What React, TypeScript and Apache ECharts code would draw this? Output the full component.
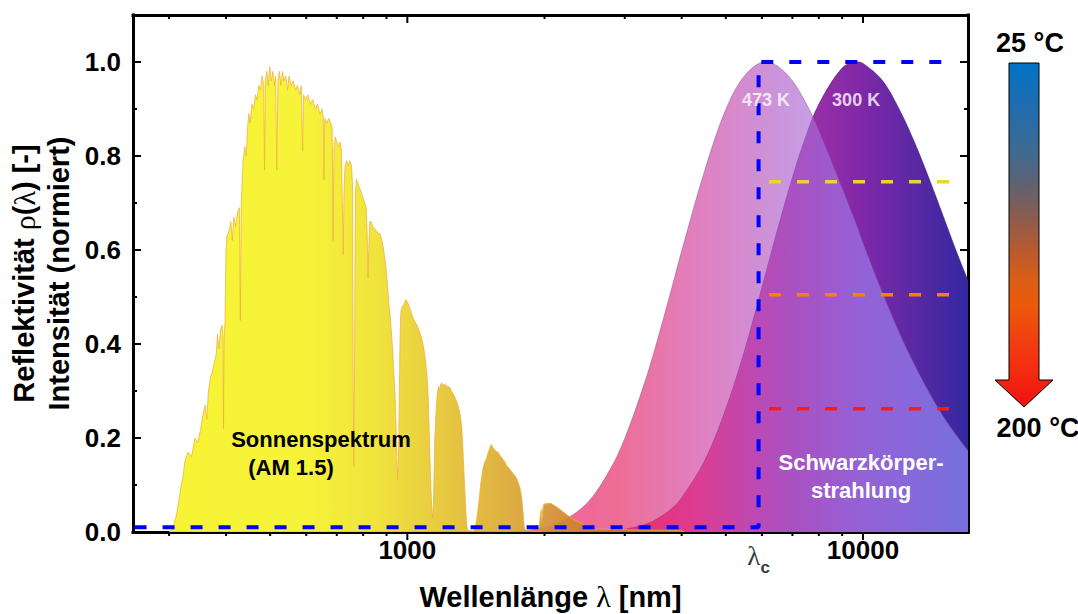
import React, { useEffect, useRef } from 'react';
import * as echarts from 'echarts';

const FONT = "'Liberation Sans', Arial, Helvetica, sans-serif";
const SERIF = "'Liberation Serif', 'Times New Roman', serif";

// ---------- data ----------
// AM 1.5 solar spectrum (normalised)
const solarWavelengthNm = [
  300, 306, 312, 318, 322, 325, 330, 336, 342, 347, 352, 356, 360, 363, 366, 370, 373, 377, 381, 383,
  386, 389, 392, 394, 395, 396, 398, 400, 402, 406, 410, 413, 416, 420, 424, 428, 430, 432, 436, 440,
  443, 446, 449, 452, 456, 460, 464, 468, 472, 476, 480, 484, 486, 488, 492, 495, 499, 503, 507, 511,
  514, 517, 520, 524, 528, 532, 536, 541, 546, 550, 556, 562, 568, 574, 580, 585, 589, 592, 598, 605,
  612, 620, 628, 635, 643, 650, 654, 656, 659, 665, 672, 679, 684, 687, 690, 695, 700, 706, 712, 717,
  720, 723, 726, 730, 736, 742, 748, 754, 758, 761, 763, 766, 769, 773, 780, 787, 794, 800, 806, 812,
  816, 820, 823, 827, 833, 840, 848, 856, 863, 870, 877, 884, 890, 896, 902, 907, 912, 917, 922, 928,
  934, 940, 946, 952, 956, 960, 964, 968, 975, 984, 992, 1000, 1010, 1020, 1030, 1040, 1050, 1062, 1073, 1082,
  1091, 1100, 1107, 1112, 1118, 1124, 1130, 1136, 1141, 1145, 1149, 1154, 1160, 1166, 1172, 1178, 1184, 1190, 1198, 1206,
  1215, 1225, 1238, 1250, 1262, 1274, 1286, 1298, 1308, 1316, 1324, 1331, 1337, 1343, 1350, 1357, 1400, 1410, 1418, 1428,
  1438, 1446, 1455, 1465, 1478, 1490, 1500, 1512, 1522, 1530, 1540, 1552, 1565, 1580, 1598, 1615, 1635, 1655, 1675, 1695,
  1715, 1735, 1752, 1765, 1778, 1788, 1797, 1805, 1815, 1940, 1950, 1958, 1964, 1970, 1976, 1982, 1988, 1998, 2010, 2025,
  2045, 2069, 2095, 2120, 2150, 2175, 2205, 2230, 2260, 2288, 2320, 2350, 2380, 2407, 2440, 2470, 2500, 2600, 2800, 3000,
  3300, 3600, 4000, 4050,
];
const solarIntensity = [
  0, 0.008, 0.04, 0.09, 0.12, 0.15, 0.17, 0.16, 0.2, 0.19, 0.22, 0.25, 0.27, 0.24, 0.3, 0.33, 0.34, 0.36, 0.38, 0.42,
  0.39, 0.43, 0.44, 0.42, 0.22, 0.4, 0.45, 0.6, 0.63, 0.64, 0.66, 0.62, 0.67, 0.65, 0.68, 0.69, 0.45, 0.7, 0.79, 0.82,
  0.8, 0.86, 0.89, 0.87, 0.91, 0.9, 0.93, 0.92, 0.95, 0.94, 0.97, 0.95, 0.77, 0.96, 0.98, 0.95, 0.99, 0.96, 0.98, 0.95,
  0.97, 0.77, 0.96, 0.98, 0.95, 0.98, 0.96, 0.97, 0.94, 0.97, 0.95, 0.96, 0.94, 0.95, 0.93, 0.95, 0.81, 0.93, 0.92, 0.93,
  0.91, 0.92, 0.9, 0.91, 0.89, 0.9, 0.88, 0.75, 0.88, 0.87, 0.88, 0.87, 0.86, 0.62, 0.82, 0.84, 0.83, 0.82, 0.83, 0.81,
  0.7, 0.59, 0.72, 0.78, 0.79, 0.78, 0.79, 0.78, 0.74, 0.3, 0.14, 0.35, 0.72, 0.75, 0.74, 0.73, 0.72, 0.71, 0.7, 0.69,
  0.64, 0.54, 0.6, 0.66, 0.66, 0.65, 0.645, 0.64, 0.635, 0.635, 0.625, 0.61, 0.59, 0.57, 0.54, 0.51, 0.48, 0.46, 0.43, 0.39,
  0.34, 0.29, 0.2, 0.11, 0.15, 0.28, 0.42, 0.47, 0.48, 0.485, 0.494, 0.49, 0.48, 0.466, 0.455, 0.447, 0.44, 0.428, 0.415, 0.4,
  0.38, 0.35, 0.32, 0.28, 0.2, 0.12, 0.06, 0.03, 0.06, 0.13, 0.2, 0.24, 0.28, 0.3, 0.31, 0.3, 0.315, 0.317, 0.31, 0.315,
  0.312, 0.31, 0.308, 0.3, 0.293, 0.285, 0.275, 0.262, 0.245, 0.225, 0.18, 0.13, 0.09, 0.05, 0.015, 0.003, 0.002, 0.01, 0.025, 0.045,
  0.07, 0.095, 0.115, 0.135, 0.148, 0.155, 0.165, 0.175, 0.183, 0.186, 0.18, 0.176, 0.172, 0.17, 0.163, 0.157, 0.15, 0.14, 0.135, 0.128,
  0.122, 0.115, 0.105, 0.095, 0.08, 0.06, 0.035, 0.012, 0.003, 0.002, 0.015, 0.035, 0.045, 0.02, 0.05, 0.03, 0.056, 0.061, 0.058, 0.062,
  0.06, 0.061, 0.057, 0.054, 0.05, 0.046, 0.042, 0.038, 0.034, 0.031, 0.027, 0.024, 0.021, 0.018, 0.014, 0.011, 0.008, 0.006, 0.006, 0.005,
  0.004, 0.004, 0.003, 0,
];

// black-body curves (normalised)
const bbWavelengthNm = [
  1500, 1800, 2000, 2200, 2500, 2800, 3000, 3300, 3500, 3800, 4000, 4500, 5000, 5500, 6100,
  6500, 7000, 7500, 8000, 9000, 9700, 10000, 11000, 12000, 13000, 14000, 15000, 16000, 17000,
];
const bb473K = [
  0.0003, 0.003, 0.0095, 0.024, 0.065, 0.137, 0.199, 0.311, 0.392, 0.517, 0.598, 0.771, 0.899, 0.971, 1.0,
  0.991, 0.96, 0.912, 0.855, 0.732, 0.651, 0.615, 0.512, 0.425, 0.354, 0.295, 0.246, 0.207, 0.173,
];
const bb300K = [
  0, 0, 0, 0.0001, 0.0005, 0.0025, 0.0056, 0.015, 0.0255, 0.0496, 0.0726, 0.153, 0.262, 0.387, 0.546,
  0.645, 0.754, 0.843, 0.91, 0.987, 1.0, 0.997, 0.962, 0.9, 0.827, 0.749, 0.672, 0.599, 0.535,
];
const bbLabels = ['473 K', '300 K'];
const bbPeakNm = [6126, 9659];
const bbLabelLevel = 0.92;

// ideal reflectivity step (blue dashed)
const idealStepNm = [252, 5900, 5900, 15600];
const idealStepValue = [0.01, 0.01, 1.0, 1.0];
const cutoffNm = 5900; // lambda_c

// reflectivity levels (yellow, orange, red dashed)
const levelStartNm = 6220;
const levelEndNm = 15600;
const levelValues = [0.745, 0.505, 0.262];
const levelColors = ['#e6d62e', '#ff8000', '#ff1a1a'];

// axes
const xMin = 250;
const xMax = 17000;
const yMin = 0;
const yMax = 1.1;
const yMajorStep = 0.2;
const yMinorStep = 0.1;
const xMajorTicks = [1000, 10000];
const xMinorTicks = [300, 400, 500, 600, 700, 800, 900, 2000, 3000, 4000, 5000, 6000, 7000, 8000, 9000];

// ---------- styles ----------
const solarGradient = {
  type: 'linear', x: 160, y: 0, x2: 600, y2: 0, global: true,
  colorStops: [
    { offset: 0, color: '#f6f222' },
    { offset: 0.32, color: '#f6f228' },
    { offset: 0.5, color: '#efe02c' },
    { offset: 0.59, color: '#e9cf30' },
    { offset: 0.705, color: '#e1b832' },
    { offset: 0.82, color: '#d9a232' },
    { offset: 0.91, color: '#d08a34' },
    { offset: 1, color: '#c87830' },
  ],
};
const grad300 = {
  type: 'linear', x: 540, y: 0, x2: 968, y2: 0, global: true,
  colorStops: [
    { offset: 0, color: '#ff4070' },
    { offset: 0.374, color: '#f04080' },
    { offset: 0.514, color: '#c038a8' },
    { offset: 0.607, color: '#a030a8' },
    { offset: 0.748, color: '#8028a8' },
    { offset: 1, color: '#3428a0' },
  ],
};
const grad473 = {
  type: 'linear', x: 540, y: 0, x2: 968, y2: 0, global: true,
  colorStops: [
    { offset: 0, color: '#e8105a' },
    { offset: 0.187, color: '#e42060' },
    { offset: 0.374, color: '#d03c9e' },
    { offset: 0.56, color: '#ae5cc8' },
    { offset: 0.748, color: '#a080f0' },
    { offset: 1, color: '#9a96ff' },
  ],
};
const arrowGradient = {
  type: 'linear', x: 0, y: 0, x2: 0, y2: 1,
  colorStops: [
    { offset: 0, color: '#0072c6' },
    { offset: 0.12, color: '#1f6db0' },
    { offset: 0.25, color: '#3c6a94' },
    { offset: 0.35, color: '#5e6272' },
    { offset: 0.45, color: '#8c5c4e' },
    { offset: 0.55, color: '#ba5a2e' },
    { offset: 0.63, color: '#da5e16' },
    { offset: 0.71, color: '#ec5808' },
    { offset: 0.8, color: '#f34010' },
    { offset: 0.9, color: '#f42a10' },
    { offset: 1, color: '#f01010' },
  ],
};

const zip = (xs: number[], ys: number[]) => xs.map((x, i) => [x, ys[i]]);

const tickRenderer = (len: number) => (params: any, api: any) => {
  const v = api.value(0);
  const b = api.coord([v, yMin]);
  const t = api.coord([v, yMax]);
  return {
    type: 'group',
    children: [
      { type: 'line', shape: { x1: b[0], y1: b[1], x2: b[0], y2: b[1] + len }, style: { stroke: '#000', lineWidth: 2 } },
      { type: 'line', shape: { x1: t[0], y1: t[1], x2: t[0], y2: t[1] + len }, style: { stroke: '#000', lineWidth: 2 } },
    ],
  };
};

const axisLine = { show: true, onZero: false, lineStyle: { color: '#000', width: 3, cap: 'square' } };

function buildOption() {
  const xBase = {
    type: 'log', logBase: 10, min: xMin, max: xMax,
    splitLine: { show: false }, axisTick: { show: false }, axisLine,
  };
  const yBase = { type: 'value', min: yMin, max: yMax, splitLine: { show: false } };
  return {
    animation: false,
    backgroundColor: '#ffffff',
    grid: { left: 133, right: 110, top: 15, bottom: 82, containLabel: false, outerBoundsMode: 'none' },
    xAxis: [
      {
        ...xBase,
        position: 'bottom',
        axisLabel: {
          formatter: (v: number) => (xMajorTicks.some((t) => Math.abs(t - v) < 1) ? String(Math.round(v)) : ''),
          fontFamily: FONT, fontSize: 26, fontWeight: 'bold', color: '#000', margin: 5,
          showMinLabel: false, showMaxLabel: false,
        },
        name: '{a|Wellenlänge }{g|λ}{a| [nm]}',
        nameLocation: 'middle',
        nameGap: 47,
        nameTextStyle: {
          rich: {
            a: { fontFamily: FONT, fontSize: 29, fontWeight: 'bold', color: '#000', lineHeight: 35 },
            g: { fontFamily: SERIF, fontSize: 30, color: '#000', lineHeight: 35 },
          },
        },
      },
      { ...xBase, position: 'top', axisLabel: { show: false } },
    ],
    yAxis: [
      {
        ...yBase,
        position: 'left',
        interval: yMajorStep,
        axisLine,
        axisTick: { show: true, inside: true, length: 8, lineStyle: { color: '#000', width: 2 } },
        axisLabel: {
          formatter: (v: number) => v.toFixed(1),
          fontFamily: FONT, fontSize: 26, fontWeight: 'bold', color: '#000', margin: 12,
          showMaxLabel: false,
        },
        name: '{a|Reflektivität }{g|ρ}{a|(}{g|λ}{a|) [-]}\n{a|Intensität (normiert)}',
        nameLocation: 'middle',
        nameRotate: 90,
        nameGap: 52,
        nameTextStyle: {
          rich: {
            a: { fontFamily: FONT, fontSize: 29, fontWeight: 'bold', color: '#000', lineHeight: 35 },
            g: { fontFamily: SERIF, fontSize: 30, color: '#000', lineHeight: 35 },
          },
        },
      },
      {
        ...yBase,
        position: 'left',
        interval: yMinorStep,
        axisLine: { show: false },
        axisTick: { show: true, inside: true, length: 4, lineStyle: { color: '#000', width: 2 } },
        axisLabel: { show: false },
      },
      {
        ...yBase,
        position: 'right',
        interval: yMajorStep,
        axisLine,
        axisTick: { show: true, inside: true, length: 8, lineStyle: { color: '#000', width: 2 } },
        axisLabel: { show: false },
      },
      {
        ...yBase,
        position: 'right',
        interval: yMinorStep,
        axisLine: { show: false },
        axisTick: { show: true, inside: true, length: 4, lineStyle: { color: '#000', width: 2 } },
        axisLabel: { show: false },
      },
    ],
    series: [
      {
        name: '300 K', type: 'line', data: zip(bbWavelengthNm, bb300K), smooth: 0.35,
        symbol: 'none', z: 2,
        lineStyle: { width: 1, color: 'rgba(50,20,110,0.55)' },
        areaStyle: { color: grad300, opacity: 1 },
      },
      {
        name: '473 K', type: 'line', data: zip(bbWavelengthNm, bb473K), smooth: 0.35,
        symbol: 'none', z: 3,
        lineStyle: { width: 1, color: 'rgba(140,70,140,0.45)' },
        areaStyle: { color: grad473, opacity: 0.65 },
      },
      {
        name: 'AM 1.5', type: 'line', data: zip(solarWavelengthNm, solarIntensity),
        symbol: 'none', z: 4,
        lineStyle: { width: 1, color: 'rgba(236,176,60,0.75)' },
        areaStyle: { color: solarGradient, opacity: 0.92 },
      },
      {
        name: 'ideal', type: 'line', data: zip(idealStepNm, idealStepValue), symbol: 'none', z: 6,
        lineStyle: { color: '#0000ff', width: 4, type: [12, 16] },
      },
      ...levelValues.map((v, i) => ({
        name: 'level' + i, type: 'line', data: [[levelStartNm, v], [levelEndNm, v]], symbol: 'none', z: 6,
        lineStyle: { color: levelColors[i], width: 3.5, type: [12, 16] },
      })),
      {
        name: 'bbLabels', type: 'scatter', z: 8, symbolSize: 1, silent: true,
        itemStyle: { color: 'rgba(0,0,0,0)' },
        data: bbPeakNm.map((w, i) => ({ value: [w, bbLabelLevel], name: bbLabels[i] })),
        label: {
          show: true, position: 'inside', formatter: '{b}',
          fontFamily: FONT, fontSize: 18, fontWeight: 'bold', color: '#ffffff',
        },
      },
      {
        name: 'lambdaC', type: 'scatter', z: 8, symbolSize: 1, silent: true,
        itemStyle: { color: 'rgba(0,0,0,0)' },
        data: [[cutoffNm, yMin]],
        label: {
          show: true, position: 'bottom', distance: 10,
          formatter: '{l|λ}{c|c}',
          rich: {
            l: { fontFamily: SERIF, fontSize: 27, color: '#000', verticalAlign: 'bottom', padding: [0, 0, 6, 0] },
            c: { fontFamily: FONT, fontSize: 17, fontWeight: 'bold', color: '#000', verticalAlign: 'bottom' },
          },
        },
      },
      {
        name: 'majorTicks', type: 'custom', coordinateSystem: 'cartesian2d', z: 9, silent: true, clip: false,
        data: xMajorTicks.map((v) => [v, yMin]),
        renderItem: tickRenderer(8),
      },
      {
        name: 'minorTicks', type: 'custom', coordinateSystem: 'cartesian2d', z: 9, silent: true, clip: false,
        data: xMinorTicks.map((v) => [v, yMin]),
        renderItem: tickRenderer(4),
      },
    ],
    graphic: [
      {
        type: 'polygon', z: 100,
        shape: { points: [[1009, 63], [1039, 63], [1039, 380], [1053, 380], [1024, 407], [995, 380], [1009, 380]] },
        style: { fill: arrowGradient, stroke: '#000', lineWidth: 1 },
      },
      {
        type: 'text', z: 100, x: 1030, y: 43,
        style: { text: '25 °C', fill: '#000', font: `bold 27px ${FONT}`, textAlign: 'center', textVerticalAlign: 'middle', verticalAlign: 'middle' },
      },
      {
        type: 'text', z: 100, x: 1038, y: 428,
        style: { text: '200 °C', fill: '#000', font: `bold 27px ${FONT}`, textAlign: 'center', textVerticalAlign: 'middle', verticalAlign: 'middle' },
      },
      {
        type: 'text', z: 100, x: 321, y: 439,
        style: { text: 'Sonnenspektrum', fill: '#000', font: `bold 22px ${FONT}`, textAlign: 'center', textVerticalAlign: 'middle', verticalAlign: 'middle' },
      },
      {
        type: 'text', z: 100, x: 291, y: 467,
        style: { text: '(AM 1.5)', fill: '#000', font: `bold 22px ${FONT}`, textAlign: 'center', textVerticalAlign: 'middle', verticalAlign: 'middle' },
      },
      {
        type: 'text', z: 100, x: 861, y: 462,
        style: { text: 'Schwarzkörper-', fill: '#fff', font: `bold 22px ${FONT}`, textAlign: 'center', textVerticalAlign: 'middle', verticalAlign: 'middle' },
      },
      {
        type: 'text', z: 100, x: 861, y: 490,
        style: { text: 'strahlung', fill: '#fff', font: `bold 22px ${FONT}`, textAlign: 'center', textVerticalAlign: 'middle', verticalAlign: 'middle' },
      },
    ],
  };
}

export default function App() {
  const ref = useRef<HTMLDivElement>(null);
  useEffect(() => {
    if (!ref.current) return;
    const chart = echarts.init(ref.current, null, { renderer: 'svg' });
    chart.setOption(buildOption() as any);
    return () => chart.dispose();
  }, []);
  return <div ref={ref} style={{ position: 'absolute', left: 0, top: 0, width: 1078, height: 614 }} />;
}
